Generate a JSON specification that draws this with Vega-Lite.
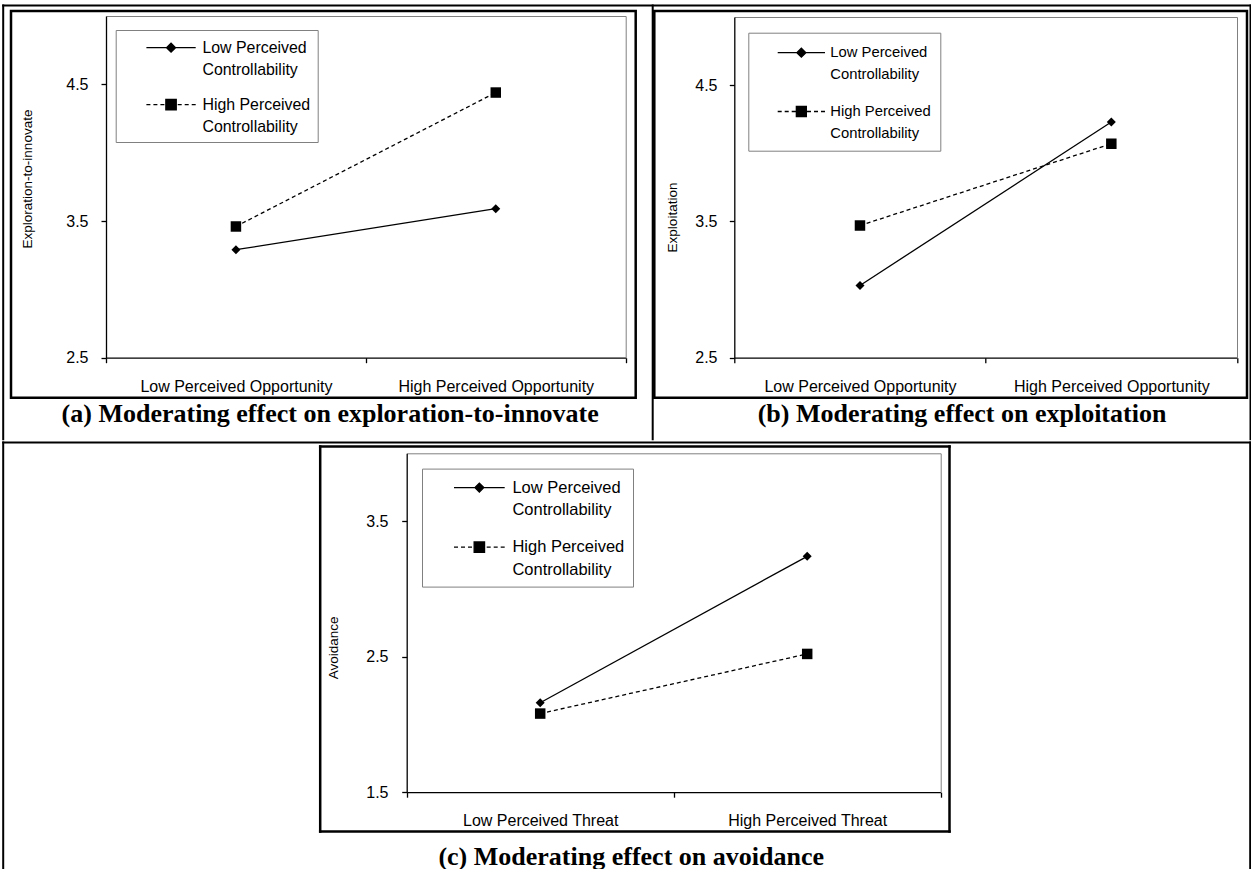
{
  "$schema": "https://vega.github.io/schema/vega-lite/v6.json",
  "padding": {"left": 1, "top": 3, "right": 0, "bottom": 0},
  "background": "white",
  "datasets": {
    "d": [
      {"panel": "a", "x": "Low Perceived Opportunity", "ctrl": "Low Perceived Controllability", "value": 3.29},
      {"panel": "a", "x": "High Perceived Opportunity", "ctrl": "Low Perceived Controllability", "value": 3.59},
      {"panel": "a", "x": "Low Perceived Opportunity", "ctrl": "High Perceived Controllability", "value": 3.46},
      {"panel": "a", "x": "High Perceived Opportunity", "ctrl": "High Perceived Controllability", "value": 4.44},
      {"panel": "b", "x": "Low Perceived Opportunity", "ctrl": "Low Perceived Controllability", "value": 3.03},
      {"panel": "b", "x": "High Perceived Opportunity", "ctrl": "Low Perceived Controllability", "value": 4.23},
      {"panel": "b", "x": "Low Perceived Opportunity", "ctrl": "High Perceived Controllability", "value": 3.47},
      {"panel": "b", "x": "High Perceived Opportunity", "ctrl": "High Perceived Controllability", "value": 4.07},
      {"panel": "c", "x": "Low Perceived Threat", "ctrl": "Low Perceived Controllability", "value": 2.16},
      {"panel": "c", "x": "High Perceived Threat", "ctrl": "Low Perceived Controllability", "value": 3.24},
      {"panel": "c", "x": "Low Perceived Threat", "ctrl": "High Perceived Controllability", "value": 2.08},
      {"panel": "c", "x": "High Perceived Threat", "ctrl": "High Perceived Controllability", "value": 2.52}
    ]
  },
  "data": {"name": "d"},
  "spacing": -13,
  "center": false,
  "resolve": {"scale": {"shape": "independent"}, "legend": {"shape": "independent"}},
  "vconcat": [
    {
      "bounds": "flush",
      "spacing": 18.3,
      "resolve": {"scale": {"shape": "independent"}, "legend": {"shape": "independent"}},
      "hconcat": [
        {
          "width": 624.7, "height": 386.7,
          "transform": [{"filter": "datum.panel === 'a'"}],
          "layer": [
            {
              "layer": [
                {
                  "transform": [{"filter": "datum.ctrl === 'Low Perceived Controllability'"}],
                  "mark": {"type": "line", "color": "black", "strokeWidth": 1.3},
                  "encoding": {
                    "x": {"field": "x", "type": "nominal", "sort": ["Low Perceived Opportunity", "High Perceived Opportunity"],
                      "scale": {"type": "band", "range": [95, 614.7], "paddingInner": 0, "paddingOuter": 0},
                      "axis": {"orient": "bottom", "offset": -40, "labelAngle": 0, "labelPadding": 16, "tickBand": "extent",
                        "title": "(a) Moderating effect on exploration-to-innovate", "titleFont": "Liberation Serif", "titleFontSize": 26, "titleFontWeight": "bold",
                        "titleX": 318.7, "titleY": 63.3, "titleBaseline": "alphabetic", "titleAlign": "center", "titleAngle": 0}},
                    "y": {"field": "value", "type": "quantitative",
                      "scale": {"domain": [2.5, 5], "range": [346.7, 5], "nice": false, "zero": false},
                      "axis": {"orient": "left", "offset": -95, "values": [2.5, 3.5, 4.5], "format": ".1f", "labelPadding": 13,
                        "title": "Exploration-to-innovate", "titleX": -78.8, "titleY": 167.5, "titleBaseline": "middle", "titleAlign": "center", "titleAngle": -90}}
                  }
                },
                {
                  "transform": [{"filter": "datum.ctrl === 'High Perceived Controllability'"}],
                  "mark": {"type": "line", "color": "black", "strokeWidth": 1.3, "strokeDash": [4, 3]},
                  "encoding": {
                    "x": {"field": "x", "type": "nominal", "sort": ["Low Perceived Opportunity", "High Perceived Opportunity"], "axis": null},
                    "y": {"field": "value", "type": "quantitative", "axis": null}
                  }
                },
                {
                  "transform": [{"filter": "datum.ctrl === 'Low Perceived Controllability'"}],
                  "mark": {"type": "point", "filled": true, "color": "black", "opacity": 1, "shape": "diamond", "size": 81},
                  "encoding": {
                    "x": {"field": "x", "type": "nominal", "sort": ["Low Perceived Opportunity", "High Perceived Opportunity"], "axis": null},
                    "y": {"field": "value", "type": "quantitative", "axis": null}
                  }
                },
                {
                  "transform": [{"filter": "datum.ctrl === 'High Perceived Controllability'"}],
                  "mark": {"type": "point", "filled": true, "color": "black", "opacity": 1, "shape": "square", "size": 110},
                  "encoding": {
                    "x": {"field": "x", "type": "nominal", "sort": ["Low Perceived Opportunity", "High Perceived Opportunity"], "axis": null},
                    "y": {"field": "value", "type": "quantitative", "axis": null}
                  }
                },
                {
                  "mark": {"type": "point", "filled": true, "fill": "black", "stroke": "black", "strokeWidth": 1.3, "opacity": 0},
                  "encoding": {
                    "x": {"field": "x", "type": "nominal", "sort": ["Low Perceived Opportunity", "High Perceived Opportunity"],
                      "axis": {"orient": "top", "offset": -5, "domainColor": "#808080", "domainWidth": 1, "labels": false, "ticks": false, "title": null}},
                    "y": {"field": "value", "type": "quantitative",
                      "axis": {"orient": "right", "offset": -10, "domainColor": "#808080", "domainWidth": 1, "labels": false, "ticks": false, "title": null}},
                    "shape": {"field": "ctrl", "type": "nominal",
                      "scale": {"domain": ["Low Perceived Controllability", "High Perceived Controllability"],
                        "range": ["M-2.465,0H2.465M-0.45,0L0,-0.45L0.45,0L0,0.45Z", "M-2.465,0H-2.065M-1.765,0H-1.365M-1.065,0H-0.665M0.665,0H1.065M1.365,0H1.765M2.065,0H2.465M-0.52,-0.52H0.52V0.52H-0.52Z"]},
                      "legend": {
                        "orient": "none", "legendX": 104.7, "legendY": 19, "title": null,
                        "strokeColor": "#808080", "padding": 6.7, "symbolOffset": 37.65, "labelOffset": 20.35,
                        "symbolSize": 400, "symbolStrokeWidth": 1.3, "symbolOpacity": 1, "symbolFillColor": "black",
                        "labelFontSize": 15.9, "rowPadding": 15,
                        "labelExpr": "[replace(datum.label, ' Controllability', '') + '     ', 'Controllability']"
                      }}
                  }
                }
              ],
              "resolve": {"axis": {"x": "independent", "y": "independent"}}
            },
            {
              "mark": {"type": "point", "opacity": 0, "size": 1},
              "encoding": {
                "x": {"field": "x", "type": "nominal", "scale": {"type": "band", "range": [-8.3, 1238.7]},
                  "axis": {"orient": "top", "offset": 6, "domainColor": "black", "domainWidth": 2, "domainCap": "square", "labels": false, "ticks": false, "title": null, "grid": false}},
                "y": {"field": "value", "type": "quantitative", "scale": {"domain": [0, 5], "range": [427.7, -6], "nice": false, "zero": false},
                  "axis": {"orient": "left", "offset": 8.3, "domainColor": "black", "domainWidth": 2, "domainCap": "square", "labels": false, "ticks": false, "title": null, "grid": false}}
              }
            },
            {
              "mark": {"type": "point", "opacity": 0, "size": 1},
              "encoding": {
                "y": {"field": "value", "type": "quantitative", "scale": {"domain": [0, 5], "range": [427.7, -6], "nice": false, "zero": false},
                  "axis": {"orient": "right", "offset": 16.5, "domainColor": "black", "domainWidth": 2, "domainCap": "square", "labels": false, "ticks": false, "title": null, "grid": false}}
              }
            }
          ],
          "resolve": {"scale": {"x": "independent", "y": "independent"}, "axis": {"x": "independent", "y": "independent"}}
        },
        {
          "width": 592.7, "height": 386.7,
          "transform": [{"filter": "datum.panel === 'b'"}],
          "layer": [
            {
              "layer": [
                {
                  "transform": [{"filter": "datum.ctrl === 'Low Perceived Controllability'"}],
                  "mark": {"type": "line", "color": "black", "strokeWidth": 1.3},
                  "encoding": {
                    "x": {"field": "x", "type": "nominal", "sort": ["Low Perceived Opportunity", "High Perceived Opportunity"],
                      "scale": {"type": "band", "range": [80, 582.7], "paddingInner": 0, "paddingOuter": 0},
                      "axis": {"orient": "bottom", "offset": -40, "labelAngle": 0, "labelPadding": 16, "tickBand": "extent",
                        "title": "(b) Moderating effect on exploitation", "titleFont": "Liberation Serif", "titleFontSize": 26, "titleFontWeight": "bold",
                        "titleX": 307.2, "titleY": 64, "titleBaseline": "alphabetic", "titleAlign": "center", "titleAngle": 0}},
                    "y": {"field": "value", "type": "quantitative",
                      "scale": {"domain": [2.5, 5], "range": [346.7, 6], "nice": false, "zero": false},
                      "axis": {"orient": "left", "offset": -80, "values": [2.5, 3.5, 4.5], "format": ".1f", "labelPadding": 12.3,
                        "title": "Exploitation", "titleX": -61.8, "titleY": 206, "titleBaseline": "middle", "titleAlign": "center", "titleAngle": -90}}
                  }
                },
                {
                  "transform": [{"filter": "datum.ctrl === 'High Perceived Controllability'"}],
                  "mark": {"type": "line", "color": "black", "strokeWidth": 1.3, "strokeDash": [4, 3]},
                  "encoding": {
                    "x": {"field": "x", "type": "nominal", "sort": ["Low Perceived Opportunity", "High Perceived Opportunity"], "axis": null},
                    "y": {"field": "value", "type": "quantitative", "axis": null}
                  }
                },
                {
                  "transform": [{"filter": "datum.ctrl === 'Low Perceived Controllability'"}],
                  "mark": {"type": "point", "filled": true, "color": "black", "opacity": 1, "shape": "diamond", "size": 81},
                  "encoding": {
                    "x": {"field": "x", "type": "nominal", "sort": ["Low Perceived Opportunity", "High Perceived Opportunity"], "axis": null},
                    "y": {"field": "value", "type": "quantitative", "axis": null}
                  }
                },
                {
                  "transform": [{"filter": "datum.ctrl === 'High Perceived Controllability'"}],
                  "mark": {"type": "point", "filled": true, "color": "black", "opacity": 1, "shape": "square", "size": 110},
                  "encoding": {
                    "x": {"field": "x", "type": "nominal", "sort": ["Low Perceived Opportunity", "High Perceived Opportunity"], "axis": null},
                    "y": {"field": "value", "type": "quantitative", "axis": null}
                  }
                },
                {
                  "mark": {"type": "point", "filled": true, "fill": "black", "stroke": "black", "strokeWidth": 1.3, "opacity": 0},
                  "encoding": {
                    "x": {"field": "x", "type": "nominal", "sort": ["Low Perceived Opportunity", "High Perceived Opportunity"],
                      "axis": {"orient": "top", "offset": -6, "domainColor": "#808080", "domainWidth": 1, "labels": false, "ticks": false, "title": null}},
                    "y": {"field": "value", "type": "quantitative",
                      "axis": {"orient": "right", "offset": -10, "domainColor": "#808080", "domainWidth": 1, "labels": false, "ticks": false, "title": null}},
                    "shape": {"field": "ctrl", "type": "nominal",
                      "scale": {"domain": ["Low Perceived Controllability", "High Perceived Controllability"],
                        "range": ["M-2.365,0H2.365M-0.45,0L0,-0.45L0.45,0L0,0.45Z", "M-2.365,0H-1.965M-1.665,0H-1.265M-0.965,0H-0.565M0.565,0H0.965M1.265,0H1.665M1.965,0H2.365M-0.5,-0.5H0.5V0.5H-0.5Z"]},
                      "legend": {
                        "orient": "none", "legendX": 94, "legendY": 21.7, "title": null,
                        "strokeColor": "#808080", "padding": 9, "symbolOffset": 33.05, "labelOffset": 17.95,
                        "symbolSize": 400, "symbolStrokeWidth": 1.3, "symbolOpacity": 1, "symbolFillColor": "black",
                        "labelFontSize": 14.8, "rowPadding": 17.8,
                        "labelExpr": "[replace(datum.label, ' Controllability', '') + '     ', 'Controllability']"
                      }}
                  }
                }
              ],
              "resolve": {"axis": {"x": "independent", "y": "independent"}}
            },
            {
              "mark": {"type": "point", "opacity": 0, "size": 1},
              "encoding": {
                "y": {"field": "value", "type": "quantitative", "scale": {"domain": [0, 5], "range": [427.7, -6], "nice": false, "zero": false},
                  "axis": {"orient": "right", "offset": 3, "domainColor": "black", "domainWidth": 2, "domainCap": "square", "labels": false, "ticks": false, "title": null, "grid": false}}
              }
            }
          ],
          "resolve": {"scale": {"x": "independent", "y": "independent"}, "axis": {"x": "independent", "y": "independent"}}
        }
      ]
    },
    {
      "width": 938, "height": 385,
      "view": {"stroke": null, "fill": null},
      "transform": [{"filter": "datum.panel === 'c'"}],
      "layer": [
        {
          "layer": [
            {
              "transform": [{"filter": "datum.ctrl === 'Low Perceived Controllability'"}],
              "mark": {"type": "line", "color": "black", "strokeWidth": 1.3},
              "encoding": {
                "x": {"field": "x", "type": "nominal", "sort": ["Low Perceived Threat", "High Perceived Threat"],
                  "scale": {"type": "band", "range": [395.7, 929.7], "paddingInner": 0, "paddingOuter": 0},
                  "axis": {"orient": "bottom", "offset": -38.8, "labelAngle": 0, "labelPadding": 15, "tickBand": "extent",
                    "title": "(c) Moderating effect on avoidance", "titleFont": "Liberation Serif", "titleFontSize": 26, "titleFontWeight": "bold",
                    "titleX": 619.7, "titleY": 72.1, "titleBaseline": "alphabetic", "titleAlign": "center", "titleAngle": 0}},
                "y": {"field": "value", "type": "quantitative",
                  "scale": {"domain": [1.5, 4], "range": [346.2, 7.3], "nice": false, "zero": false},
                  "axis": {"orient": "left", "offset": -395.7, "values": [1.5, 2.5, 3.5], "format": ".1f", "labelPadding": 13.7,
                    "title": "Avoidance", "titleX": -73, "titleY": 201.3, "titleBaseline": "middle", "titleAlign": "center", "titleAngle": -90}}
              }
            },
            {
              "transform": [{"filter": "datum.ctrl === 'High Perceived Controllability'"}],
              "mark": {"type": "line", "color": "black", "strokeWidth": 1.3, "strokeDash": [4, 3]},
              "encoding": {
                "x": {"field": "x", "type": "nominal", "sort": ["Low Perceived Threat", "High Perceived Threat"], "axis": null},
                "y": {"field": "value", "type": "quantitative", "axis": null}
              }
            },
            {
              "transform": [{"filter": "datum.ctrl === 'Low Perceived Controllability'"}],
              "mark": {"type": "point", "filled": true, "color": "black", "opacity": 1, "shape": "diamond", "size": 81},
              "encoding": {
                "x": {"field": "x", "type": "nominal", "sort": ["Low Perceived Threat", "High Perceived Threat"], "axis": null},
                "y": {"field": "value", "type": "quantitative", "axis": null}
              }
            },
            {
              "transform": [{"filter": "datum.ctrl === 'High Perceived Controllability'"}],
              "mark": {"type": "point", "filled": true, "color": "black", "opacity": 1, "shape": "square", "size": 110},
              "encoding": {
                "x": {"field": "x", "type": "nominal", "sort": ["Low Perceived Threat", "High Perceived Threat"], "axis": null},
                "y": {"field": "value", "type": "quantitative", "axis": null}
              }
            },
            {
              "mark": {"type": "point", "filled": true, "fill": "black", "stroke": "black", "strokeWidth": 1.3, "opacity": 0},
              "encoding": {
                "x": {"field": "x", "type": "nominal", "sort": ["Low Perceived Threat", "High Perceived Threat"],
                  "axis": {"orient": "top", "offset": -7.3, "domainColor": "#808080", "domainWidth": 1, "labels": false, "ticks": false, "title": null}},
                "y": {"field": "value", "type": "quantitative",
                  "axis": {"orient": "right", "offset": -8.3, "domainColor": "#808080", "domainWidth": 1, "labels": false, "ticks": false, "title": null}},
                "shape": {"field": "ctrl", "type": "nominal",
                  "scale": {"domain": ["Low Perceived Controllability", "High Perceived Controllability"],
                    "range": ["M-2.535,0H2.535M-0.45,0L0,-0.45L0.45,0L0,0.45Z", "M-2.535,0H-2.135M-1.835,0H-1.435M-1.135,0H-0.735M0.735,0H1.135M1.435,0H1.835M2.135,0H2.535M-0.52,-0.52H0.52V0.52H-0.52Z"]},
                  "legend": {
                    "orient": "none", "legendX": 411, "legendY": 22.6, "title": null,
                    "strokeColor": "#808080", "padding": 8, "symbolOffset": 38.35, "labelOffset": 22.05,
                    "symbolSize": 400, "symbolStrokeWidth": 1.3, "symbolOpacity": 1, "symbolFillColor": "black",
                    "labelFontSize": 16.5, "rowPadding": 16.5,
                    "labelExpr": "[replace(datum.label, ' Controllability', '') + '     ', 'Controllability']"
                  }}
              }
            }
          ],
          "resolve": {"axis": {"x": "independent", "y": "independent"}}
        },
        {
          "mark": {"type": "point", "opacity": 0, "size": 1},
          "encoding": {
            "x": {"field": "x", "type": "nominal", "scale": {"type": "band", "range": [308.7, 938]},
              "axis": {"orient": "top", "offset": 0, "domainColor": "black", "domainWidth": 2.5, "domainCap": "square", "labels": false, "ticks": false, "title": null, "grid": false}},
            "y": {"field": "value", "type": "quantitative", "scale": {"domain": [0, 5], "range": [385, 0], "nice": false, "zero": false},
              "axis": {"orient": "left", "offset": -308.7, "domainColor": "black", "domainWidth": 2.5, "domainCap": "square", "labels": false, "ticks": false, "title": null, "grid": false}}
          }
        },
        {
          "mark": {"type": "point", "opacity": 0, "size": 1},
          "encoding": {
            "x": {"field": "x", "type": "nominal", "scale": {"type": "band", "range": [308.7, 938]},
              "axis": {"orient": "bottom", "offset": 0, "domainColor": "black", "domainWidth": 2.5, "domainCap": "square", "labels": false, "ticks": false, "title": null, "grid": false}},
            "y": {"field": "value", "type": "quantitative", "scale": {"domain": [0, 5], "range": [385, 0], "nice": false, "zero": false},
              "axis": {"orient": "right", "offset": 0, "domainColor": "black", "domainWidth": 2.5, "domainCap": "square", "labels": false, "ticks": false, "title": null, "grid": false}}
          }
        },
        {
          "mark": {"type": "point", "opacity": 0, "size": 1},
          "encoding": {
            "x": {"field": "x", "type": "nominal", "scale": {"type": "band", "range": [-8.3, 1238.7]},
              "axis": {"orient": "top", "offset": 4, "domainColor": "black", "domainWidth": 2, "domainCap": "square", "labels": false, "ticks": false, "title": null, "grid": false}},
            "y": {"field": "value", "type": "quantitative", "scale": {"domain": [0, 5], "range": [425.3, -4], "nice": false, "zero": false},
              "axis": {"orient": "left", "offset": 8.3, "domainColor": "black", "domainWidth": 2, "domainCap": "square", "labels": false, "ticks": false, "title": null, "grid": false}}
          }
        },
        {
          "mark": {"type": "point", "opacity": 0, "size": 1},
          "encoding": {
            "x": {"field": "x", "type": "nominal", "scale": {"type": "band", "range": [-8.3, 1238.7]},
              "axis": {"orient": "bottom", "offset": 40.3, "domainColor": "black", "domainWidth": 2, "domainCap": "square", "labels": false, "ticks": false, "title": null, "grid": false}},
            "y": {"field": "value", "type": "quantitative", "scale": {"domain": [0, 5], "range": [425.3, -4], "nice": false, "zero": false},
              "axis": {"orient": "right", "offset": 300.7, "domainColor": "black", "domainWidth": 2, "domainCap": "square", "labels": false, "ticks": false, "title": null, "grid": false}}
          }
        }
      ],
      "resolve": {"scale": {"x": "independent", "y": "independent"}, "axis": {"x": "independent", "y": "independent"}}
    }
  ],
  "config": {
    "view": {"stroke": "black", "strokeWidth": 2.5, "fill": "white"},
    "axis": {
      "grid": false, "labelFont": "Liberation Sans", "labelFontSize": 16, "labelColor": "black",
      "domainColor": "black", "domainWidth": 1.3, "tickColor": "black", "tickWidth": 1.3, "tickSize": 5,
      "labelLimit": 400, "titleFont": "Liberation Sans", "titleFontSize": 13.5, "titleFontWeight": "normal", "titleColor": "black"
    },
    "legend": {
      "labelFont": "Liberation Sans", "labelColor": "black", "labelBaseline": "middle", "labelLimit": 400,
      "strokeWidth": 1, "fillColor": "white"
    },
    "style": {"guide-label": {"lineHeight": 22.7}}
  }
}
